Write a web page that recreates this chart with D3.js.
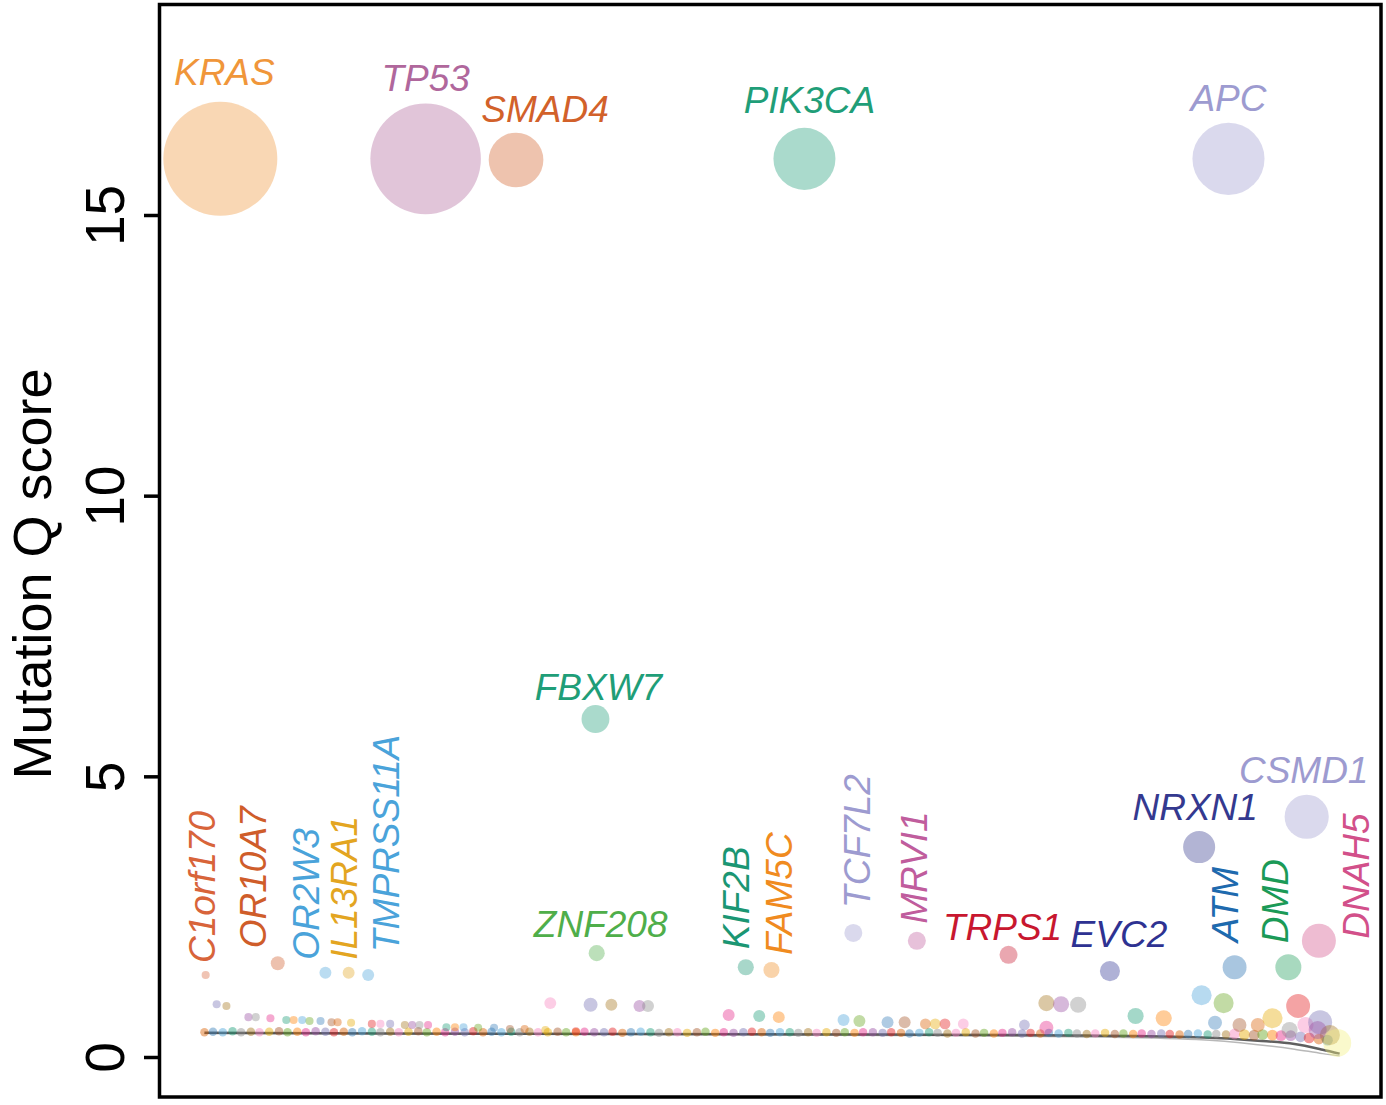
<!DOCTYPE html>
<html>
<head>
<meta charset="utf-8">
<script src="https://cdn.jsdelivr.net/npm/d3@7"></script>
<style>
  body { margin: 0; background: #fff; }
  text { font-family: "Liberation Sans", Arial, sans-serif; }
</style>
</head>
<body>
<div id="chart"></div>
<script>
// labelled genes
const genes = ["KRAS","TP53","SMAD4","PIK3CA","APC","FBXW7","ZNF208","C1orf170","OR10A7","OR2W3",
  "IL13RA1","TMPRSS11A","KIF2B","FAM5C","TCF7L2","MRVI1","TRPS1","EVC2","NRXN1","CSMD1","ATM","DMD","DNAH5"];
const geneRank = [5.1,21.9,29.3,52.9,87.6,35.8,35.9,3.9,9.8,13.7,15.6,17.2,48.1,50.2,56.9,62.1,69.6,77.9,85.2,94.0,88.1,92.5,95.0];
const geneQ = [16.0,16.0,15.98,16.0,16.0,6.02,1.85,1.46,1.67,1.50,1.50,1.46,1.60,1.55,2.21,2.07,1.82,1.53,3.74,4.28,1.60,1.60,2.07];
const geneMut = [100,94,23,29.6,40,6,2,0.5,1.5,1.1,1.1,1.1,2,2,2.5,2.5,2.5,3.1,7.9,15,4.4,5.2,8.9];

// other genes above the baseline
const otherRank = [4.8,5.6,7.4,8.0,9.2,10.5,11.1,11.8,12.4,13.3,14.2,14.7,15.8,17.5,18.2,19.0,20.2,20.8,21.4,22.1,
  23.6,24.3,25.0,26.2,27.5,28.8,30.0,31.7,34.2,32.1,35.4,37.1,39.4,40.1,46.7,49.2,50.8,56.1,57.4,59.7,61.1,62.8,63.6,
  64.4,65.9,70.9,72.7,73.9,75.3,72.7,80.0,82.3,85.4,87.2,86.5,88.5,90.0,91.2,93.3,93.9,95.1,95.9,94.9,92.6,96.5];
const otherQ = [0.94,0.91,0.71,0.71,0.69,0.66,0.66,0.66,0.64,0.64,0.62,0.62,0.61,0.59,0.59,0.59,0.57,0.57,0.57,0.57,
  0.53,0.53,0.53,0.52,0.52,0.50,0.50,0.48,0.46,0.96,0.93,0.93,0.91,0.91,0.75,0.73,0.71,0.66,0.64,0.62,0.62,0.59,0.59,
  0.59,0.59,0.57,0.96,0.94,0.93,0.52,0.73,0.69,1.10,0.96,0.61,0.57,0.57,0.69,0.91,0.57,0.62,0.39,0.48,0.48,0.25];
const otherMut = [0.5,0.5,0.5,0.5,0.5,0.5,0.5,0.5,0.5,0.5,0.5,0.5,0.5,0.5,0.5,0.5,0.5,0.5,0.5,0.5,
  0.5,0.5,0.5,0.5,0.5,0.5,0.5,0.5,0.5,1.1,1.5,1.1,1.1,1.1,1.1,1.1,1.1,1.1,1.1,1.1,1.1,0.9,0.9,
  0.9,0.9,0.9,2,2,2,1.5,2,2,3.1,3.1,1.5,1.5,1.5,3.1,4.4,2,4.4,3.1,2.5,2,6];

// crowd of genes sitting on the null curve
const bandRank = [3.8,4.5,5.3,6.1,6.8,7.6,8.3,9.1,9.9,10.6,11.4,12.1,12.9,13.7,14.4,15.2,15.9,16.7,17.5,18.2,
  19.0,19.7,20.5,21.3,22.0,22.8,23.5,24.3,25.1,25.8,26.6,27.3,28.1,28.9,29.6,30.4,31.1,31.9,32.7,33.4,
  34.2,34.9,35.7,36.5,37.2,38.0,38.7,39.5,40.3,41.0,41.8,42.5,43.3,44.1,44.8,45.6,46.3,47.1,47.9,48.6,
  49.4,50.1,50.9,51.7,52.4,53.2,53.9,54.7,55.5,56.2,57.0,57.7,58.5,59.3,60.0,60.8,61.5,62.3,63.1,63.8,
  64.6,65.3,66.1,66.9,67.6,68.4,69.1,69.9,70.7,71.4,72.2,72.9,73.7,74.5,75.2,76.0,76.7,77.5,78.3,79.0,
  79.8,80.5,81.3,82.1,82.8,83.6,84.3,85.1,85.9,86.6,87.4,88.1,88.9,89.7,90.4,91.2,91.9,92.7,93.5,94.2,95.0,95.7];
const bandQ = [0.44,0.45,0.44,0.46,0.44,0.45,0.44,0.45,0.46,0.44,0.45,0.44,0.46,0.45,0.44,0.45,0.44,0.46,0.45,0.44,
  0.45,0.44,0.45,0.46,0.44,0.45,0.44,0.45,0.44,0.46,0.44,0.45,0.44,0.45,0.44,0.45,0.44,0.44,0.45,0.44,
  0.44,0.45,0.44,0.44,0.45,0.43,0.44,0.45,0.44,0.43,0.44,0.44,0.43,0.44,0.45,0.43,0.44,0.43,0.44,0.45,
  0.44,0.43,0.44,0.44,0.43,0.44,0.43,0.44,0.43,0.44,0.43,0.44,0.44,0.43,0.44,0.43,0.42,0.43,0.44,0.43,
  0.42,0.43,0.44,0.42,0.43,0.42,0.43,0.44,0.42,0.43,0.42,0.43,0.42,0.43,0.42,0.41,0.42,0.43,0.41,0.42,
  0.41,0.42,0.41,0.42,0.41,0.40,0.41,0.42,0.40,0.41,0.40,0.41,0.40,0.39,0.40,0.39,0.38,0.38,0.36,0.34,0.32,0.30];

// expected (null) score curves
const nullRank = [3.8,20,40,60,75,85,90,93,95.3,96.7];
const nullQ = [0.43,0.42,0.41,0.40,0.385,0.35,0.29,0.23,0.13,0.06];
const nullQ2 = [0.42,0.41,0.40,0.385,0.36,0.31,0.22,0.14,0.06,0.02];

const yTicks = [0, 5, 10, 15];

// label styles (colour and placement, px)
const labelColor = {KRAS:"#f0963a",TP53:"#b0679c",SMAD4:"#d2612a",PIK3CA:"#1f9e78",APC:"#9d9bd0",FBXW7:"#1f9e78",
  ZNF208:"#4fae4a",C1orf170:"#d8643a",OR10A7:"#cf5d2a",OR2W3:"#4aa3da",IL13RA1:"#e3a521",TMPRSS11A:"#4aa3da",
  KIF2B:"#1b9673",FAM5C:"#f08b1f",TCF7L2:"#9d9bd0",MRVI1:"#c05d9d",TRPS1:"#c8172f",EVC2:"#2e3292",NRXN1:"#34398f",
  CSMD1:"#9d9bd0",ATM:"#1e6aae",DMD:"#1b9a57",DNAH5:"#d2508a"};
const labelPos = {KRAS:[4,-74,0],TP53:[0,-68,0],SMAD4:[29,-38,0],PIK3CA:[5,-46,0],APC:[0,-48,0],FBXW7:[3,-19,0],
  ZNF208:[4,-16,0],C1orf170:[9,-12,-90],OR10A7:[-12,-15,-90],OR2W3:[-6,-13,-90],IL13RA1:[8,-13,-90],
  TMPRSS11A:[31,-23,-90],KIF2B:[3,-18,-90],FAM5C:[21,-15,-90],TCF7L2:[17,-25,-90],MRVI1:[10,-17,-90],
  TRPS1:[-6,-15,0],EVC2:[9,-24,0],NRXN1:[-4,-27,0],CSMD1:[-3,-34,0],ATM:[3,-25,-90],DMD:[0,-24,-90],DNAH5:[50,-2,-90]};
const palette = ["#d95f02","#7570b3","#e7298a","#66a61e","#e6ab02","#a6761d","#1b9e77","#377eb8",
  "#e41a1c","#984ea3","#ff7f00","#a65628","#f781bf","#8c8c8c","#4aa3da"];

const width = 1386, height = 1105;

const svg = d3.select("#chart").append("svg")
  .attr("width", width)
  .attr("height", height);

const x = d3.scaleLinear().domain([0, 100]).range([158, 1380]);
const y = d3.scaleLinear().domain([0, 15]).range([1057, 215]);
const r = d3.scaleSqrt().domain([0, 100]).range([0, 57]);

// null curves
const line = d3.line().x(d => x(d[0])).y(d => y(d[1])).curve(d3.curveMonotoneX);
svg.append("path")
  .attr("d", line(nullRank.map((v, i) => [v, nullQ2[i]])))
  .attr("fill", "none").attr("stroke", "#9a9a9a").attr("stroke-width", 1.5).attr("opacity", 0.7);

svg.append("path")
  .attr("d", line(nullRank.map((v, i) => [v, nullQ[i]])))
  .attr("fill", "none").attr("stroke", "#444").attr("stroke-width", 2.5).attr("opacity", 0.85);

// band dots
svg.selectAll(".band")
  .data(bandRank)
  .enter()
  .append("circle")
    .attr("class", "band")
    .attr("cx", d => x(d))
    .attr("cy", (d, i) => y(bandQ[i]))
    .attr("r", d => r(d > 88 ? 0.9 : 0.55))
    .attr("fill", (d, i) => palette[(i * 7) % palette.length])
    .attr("fill-opacity", 0.45);

// other scattered genes
svg.selectAll(".other")
  .data(otherRank)
  .enter()
  .append("circle")
    .attr("class", "other")
    .attr("cx", d => x(d))
    .attr("cy", (d, i) => y(otherQ[i]))
    .attr("r", (d, i) => r(otherMut[i]))
    .attr("fill", (d, i) => i === otherRank.length - 1 ? "#f3ef80" : palette[(i * 4 + 1) % palette.length])
    .attr("fill-opacity", 0.4);

// labelled genes
const g = svg.selectAll(".gene")
  .data(genes)
  .enter()
  .append("g")
    .attr("class", "gene");

g.append("circle")
  .attr("cx", (d, i) => x(geneRank[i]))
  .attr("cy", (d, i) => y(geneQ[i]))
  .attr("r", (d, i) => r(geneMut[i]))
  .attr("fill", d => labelColor[d])
  .attr("fill-opacity", 0.38);

g.append("text")
  .attr("transform", (d, i) => {
    const p = labelPos[d];
    return `translate(${x(geneRank[i]) + p[0]},${y(geneQ[i]) + p[1]}) rotate(${p[2]})`;
  })
  .attr("text-anchor", d => labelPos[d][2] === 0 ? "middle" : "start")
  .attr("font-size", "37px")
  .attr("font-style", "italic")
  .attr("fill", d => labelColor[d])
  .text(d => d);

// axis
svg.append("g")
  .attr("transform", "translate(158,0)")
  .call(d3.axisLeft(y).tickValues(yTicks).tickSize(14).tickPadding(0))
  .call(a => a.select(".domain").remove())
  .call(a => a.selectAll("line").attr("stroke", "#000").attr("stroke-width", 3.5))
  .call(a => a.selectAll("text")
    .attr("transform", "rotate(-90)")
    .attr("x", 0).attr("y", -34).attr("dy", 0)
    .attr("text-anchor", "middle")
    .attr("font-size", "55px")
    .attr("fill", "#000"));

svg.append("text")
  .attr("transform", "translate(51,574) rotate(-90)")
  .attr("text-anchor", "middle")
  .attr("font-size", "54px")
  .text("Mutation Q score");

// frame
svg.append("rect")
  .attr("x", 159.5).attr("y", 4.5)
  .attr("width", 1221.5).attr("height", 1092.5)
  .attr("fill", "none").attr("stroke", "#000").attr("stroke-width", 3.5);
</script>
</body>
</html>
